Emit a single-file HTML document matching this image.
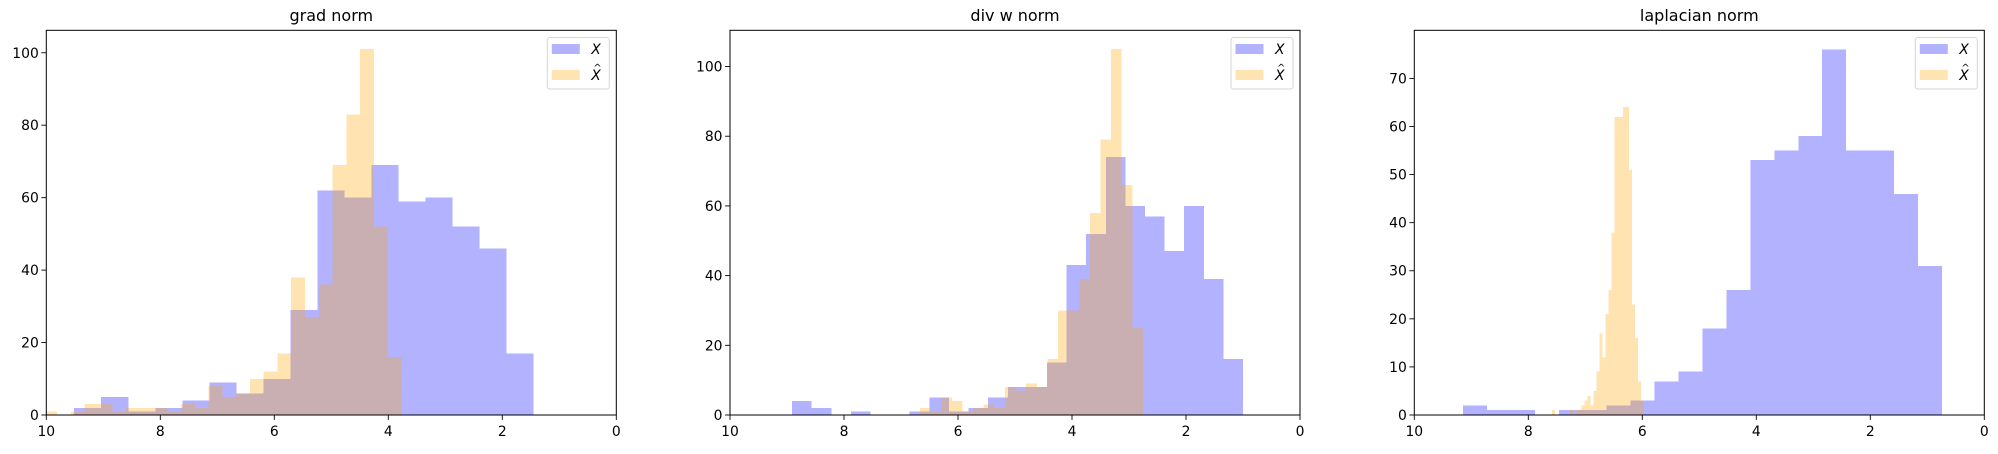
<!DOCTYPE html>
<html><head><meta charset="utf-8"><style>
html,body{margin:0;padding:0;background:#fff;}
svg text{font-family:"DejaVu Sans","Liberation Sans",sans-serif;}
</style></head><body>
<svg id="chart" width="1998" height="449" viewBox="0 0 1998 449" xmlns="http://www.w3.org/2000/svg"></svg>
<script>
// Panel 1: grad norm
const gradTitle = "grad norm";
const gradXStart = 9.51, gradXWidth = 0.474;
const gradX = [2,5,1,2,4,9,6,10,29,62,60,69,59,60,52,46,17];
const gradHatStart = 10.05, gradHatWidth = 0.2415;
const gradHat = [1,0,1,3,3,1,2,2,2,1,3,2,8,5,6,10,12,17,38,27,36,69,83,101,52,16];
const gradYTicks = [0,20,40,60,80,100];
const gradYMax = 106.2;
// Panel 2: div w norm
const divTitle = "div w norm";
const divXStart = 8.91, divXWidth = 0.3439;
const divX = [4,2,0,1,0,0,1,5,1,2,5,8,8,15,43,52,74,60,57,47,60,39,16];
const divHatStart = 6.667, divHatWidth = 0.1863;
const divHat = [2,1,5,4,1,2,3,2,8,7,9,8,16,30,30,39,58,79,105,66,25];
const divYTicks = [0,20,40,60,80,100];
const divYMax = 110.4;
// Panel 3: laplacian norm
const lapTitle = "laplacian norm";
const lapXStart = 9.146, lapXWidth = 0.4202;
const lapX = [2,1,1,0,1,1,2,3,7,9,18,26,53,55,58,76,55,55,46,31];
const lapHatStart = 7.584, lapHatWidth = 0.05207;
const lapHat = [1,0,0,0,0,0,1,0,1,1,2,3,4,2,5,9,17,12,21,26,38,62,62,62,64,64,51,23,16,7,3];
const lapYTicks = [0,10,20,30,40,50,60,70];
const lapYMax = 80;
const xTicks = [10,8,6,4,2,0];

const NS = "http://www.w3.org/2000/svg";
const svg = document.getElementById("chart");
function mk(tag, attrs, parent){const e=document.createElementNS(NS,tag);for(const k in attrs)e.setAttribute(k,attrs[k]);(parent||svg).appendChild(e);return e;}

const panels = [
 {key:"grad",left:46.3,title:gradTitle,xs:gradXStart,xw:gradXWidth,xv:gradX,hs:gradHatStart,hw:gradHatWidth,hv:gradHat,yt:gradYTicks,ym:gradYMax},
 {key:"div",left:730,title:divTitle,xs:divXStart,xw:divXWidth,xv:divX,hs:divHatStart,hw:divHatWidth,hv:divHat,yt:divYTicks,ym:divYMax},
 {key:"laplacian",left:1414.3,title:lapTitle,xs:lapXStart,xw:lapXWidth,xv:lapX,hs:lapHatStart,hw:lapHatWidth,hv:lapHat,yt:lapYTicks,ym:lapYMax}
];
const plotTop=30.3, plotBottom=415, W=570, legendW=62;
panels.forEach((p,pi)=>{
  const g=mk("g",{});
  
  
  const xS=v=>p.left+(10-v)/10*W;
  const yS=c=>plotBottom-c/p.ym*(plotBottom-plotTop);
  const cid="clip"+pi;
  const cp=mk("clipPath",{id:cid},g);
  mk("rect",{x:p.left,y:plotTop,width:W,height:plotBottom-plotTop},cp);
  const bars=mk("g",{"clip-path":"url(#"+cid+")","shape-rendering":"crispEdges"},g);
  function series(start,w,vals,color,name){
    vals.forEach((c,i)=>{
      if(c<=0)return;
      const x1=xS(start-i*w), x2=xS(start-(i+1)*w);
      const r=mk("rect",{x:x1,y:yS(c),width:x2-x1,height:plotBottom-yS(c),fill:color,"fill-opacity":0.3},bars);
      
      
    });
  }
  series(p.xs,p.xw,p.xv,"#0000ff","bar-x");
  series(p.hs,p.hw,p.hv,"#ffa500","bar-x-hat");
  const fr=mk("rect",{x:p.left,y:plotTop,width:W,height:plotBottom-plotTop,fill:"none",stroke:"#000","stroke-width":1},g);
  
  
  xTicks.forEach(t=>{
    const x=xS(t);
    mk("line",{x1:x,y1:plotBottom,x2:x,y2:plotBottom+4.9,stroke:"#000","stroke-width":0.9},g);
    const tx=mk("text",{x:x,y:436,"font-size":13.9,"text-anchor":"middle",fill:"#000"},g);
    tx.textContent=t;
    
    
  });
  p.yt.forEach(t=>{
    const y=yS(t);
    mk("line",{x1:p.left-4.9,y1:y,x2:p.left,y2:y,stroke:"#000","stroke-width":0.9},g);
    const tx=mk("text",{x:p.left-7.5,y:y+5,"font-size":13.9,"text-anchor":"end",fill:"#000"},g);
    tx.textContent=t;
    
    
  });
  const tt=mk("text",{x:p.left+W/2,y:21,"font-size":16,"text-anchor":"middle",fill:"#000"},g);
  tt.textContent=p.title;
  
  
  const lx=p.left+W-legendW-7;
  const lg=mk("g",{},g);
  
  
  mk("rect",{x:lx,y:37.5,width:legendW,height:51.5,rx:2.5,fill:"#fff","fill-opacity":0.8,stroke:"#d6d6d6","stroke-width":1},lg);
  mk("rect",{x:lx+4.5,y:44,width:28,height:10,fill:"#0000ff","fill-opacity":0.3},lg);
  mk("rect",{x:lx+4.5,y:70,width:28,height:10,fill:"#ffa500","fill-opacity":0.3},lg);
  const t1=mk("text",{x:lx+44,y:54,"font-size":13.9,"font-style":"italic",fill:"#000"},lg);
  t1.textContent="X";
  
  
  const t2=mk("text",{x:lx+44,y:80,"font-size":13.9,"font-style":"italic",fill:"#000"},lg);
  t2.textContent="X";
  
  
  const h=mk("text",{x:lx+46,y:71,"font-size":10,fill:"#000"},lg);
  h.textContent="^";
  
  
});
</script>
</body></html>
